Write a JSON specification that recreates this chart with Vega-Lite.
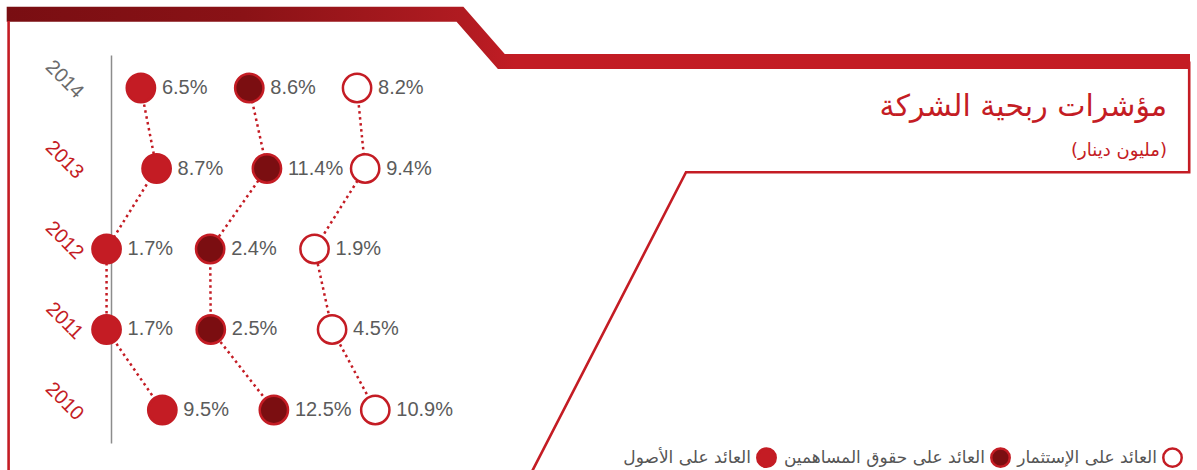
{
  "$schema": "https://vega.github.io/schema/vega-lite/v6.json",
  "width": 1197,
  "height": 470,
  "autosize": {"type": "none"},
  "padding": 0,
  "background": "white",
  "config": {"view": {"stroke": null}, "font": "Liberation Sans"},
  "title": {
    "text": "مؤشرات ربحية الشركة",
    "subtitle": "(مليون دينار)",
    "anchor": "end",
    "frame": "group",
    "orient": "top",
    "offset": -176,
    "dx": -30,
    "font": "DejaVu Sans",
    "fontSize": 30,
    "fontWeight": "normal",
    "color": "#c41c24",
    "subtitleFont": "DejaVu Sans",
    "subtitleFontSize": 18,
    "subtitleColor": "#c41c24",
    "subtitlePadding": 20
  },
  "datasets": {
    "ratios": [
      {"year": 2014, "series": "العائد على الأصول", "value": 0.065},
      {"year": 2013, "series": "العائد على الأصول", "value": 0.087},
      {"year": 2012, "series": "العائد على الأصول", "value": 0.017},
      {"year": 2011, "series": "العائد على الأصول", "value": 0.017},
      {"year": 2010, "series": "العائد على الأصول", "value": 0.095},
      {"year": 2014, "series": "العائد على حقوق المساهمين", "value": 0.086},
      {"year": 2013, "series": "العائد على حقوق المساهمين", "value": 0.114},
      {"year": 2012, "series": "العائد على حقوق المساهمين", "value": 0.024},
      {"year": 2011, "series": "العائد على حقوق المساهمين", "value": 0.025},
      {"year": 2010, "series": "العائد على حقوق المساهمين", "value": 0.125},
      {"year": 2014, "series": "العائد على الإستثمار", "value": 0.082},
      {"year": 2013, "series": "العائد على الإستثمار", "value": 0.094},
      {"year": 2012, "series": "العائد على الإستثمار", "value": 0.019},
      {"year": 2011, "series": "العائد على الإستثمار", "value": 0.045},
      {"year": 2010, "series": "العائد على الإستثمار", "value": 0.109}
    ],
    "frame": [
      {"path": "bar", "i": 0, "x": 6.7, "y": 14.2},
      {"path": "bar", "i": 1, "x": 460, "y": 14.2},
      {"path": "bar", "i": 2, "x": 501.3, "y": 61.5},
      {"path": "bar", "i": 3, "x": 1190, "y": 61.5},
      {"path": "border", "i": 0, "x": 1189.2, "y": 61.5},
      {"path": "border", "i": 1, "x": 1189.2, "y": 172.2},
      {"path": "border", "i": 2, "x": 686, "y": 172.2},
      {"path": "border", "i": 3, "x": 527.6, "y": 480},
      {"path": "left", "i": 0, "x": 8.6, "y": 21},
      {"path": "left", "i": 1, "x": 8.6, "y": 480}
    ]
  },
  "layer": [
    {
      "data": {"name": "frame"},
      "encoding": {
        "x": {"field": "x", "type": "quantitative", "scale": {"domain": [0, 1197], "range": [0, 1197], "zero": false, "nice": false}, "axis": null},
        "y": {"field": "y", "type": "quantitative", "scale": {"domain": [0, 470], "range": [0, 470], "zero": false, "nice": false}, "axis": null},
        "order": {"field": "i", "type": "quantitative"}
      },
      "layer": [
        {
          "transform": [{"filter": "datum.path === 'bar'"}],
          "mark": {
            "type": "line",
            "strokeWidth": 15,
            "strokeJoin": "miter",
            "strokeCap": "butt",
            "stroke": {
              "gradient": "linear",
              "x1": 0, "y1": 0, "x2": 1, "y2": 0,
              "stops": [
                {"offset": 0, "color": "#790e12"},
                {"offset": 0.2, "color": "#8a1216"},
                {"offset": 0.385, "color": "#b01b21"},
                {"offset": 0.43, "color": "#c21c24"},
                {"offset": 1, "color": "#c41c24"}
              ]
            }
          }
        },
        {
          "transform": [{"filter": "datum.path !== 'bar'"}],
          "mark": {"type": "line", "stroke": "#c41c24", "strokeWidth": 2.6, "strokeJoin": "miter"},
          "encoding": {"detail": {"field": "path", "type": "nominal"}}
        }
      ]
    },
    {
      "data": {"name": "ratios"},
      "encoding": {
        "y": {
          "field": "year",
          "type": "ordinal",
          "sort": "descending",
          "scale": {"type": "point", "range": [55, 443], "padding": 0.41},
          "axis": {
            "orient": "left",
            "offset": -111,
            "title": null,
            "ticks": false,
            "tickSize": 0,
            "grid": false,
            "domainColor": "#8c8c8c",
            "domainWidth": 1.5,
            "labelAngle": 45,
            "labelAlign": "center",
            "labelBaseline": "middle",
            "labelPadding": 47,
            "labelOffset": -9,
            "labelFont": "Liberation Sans",
            "labelFontSize": 20,
            "labelColor": {"condition": {"test": "datum.value == 2014", "value": "#6b6b6b"}, "value": "#c41c24"}
          }
        }
      },
      "layer": [
        {
          "transform": [{"filter": "datum.series === 'العائد على الأصول'"}],
          "encoding": {
            "x": {"field": "value", "type": "quantitative", "scale": {"domain": [0, 0.1], "range": [94.4, 165.9], "zero": false, "nice": false}, "axis": null}
          },
          "layer": [
            {"mark": {"type": "line", "stroke": "#c41c24", "strokeWidth": 2.5, "strokeDash": [2.5, 3.5]}, "encoding": {"order": {"field": "year", "type": "quantitative"}}},
            {"mark": {"type": "circle", "size": 800, "stroke": "#c41c24", "strokeWidth": 2.5, "opacity": 1},
             "encoding": {"fill": {"field": "series", "type": "nominal"}}},
            {"mark": {"type": "text", "align": "left", "baseline": "middle", "dx": 21, "font": "Liberation Sans", "fontSize": 20, "color": "#5b5b5b"},
             "encoding": {"text": {"field": "value", "type": "quantitative", "format": ".1%"}}}
          ]
        },
        {
          "transform": [{"filter": "datum.series === 'العائد على حقوق المساهمين'"}],
          "encoding": {
            "x": {"field": "value", "type": "quantitative", "scale": {"domain": [0, 0.1], "range": [195, 258.1], "zero": false, "nice": false}, "axis": null}
          },
          "layer": [
            {"mark": {"type": "line", "stroke": "#c41c24", "strokeWidth": 2.5, "strokeDash": [2.5, 3.5]}, "encoding": {"order": {"field": "year", "type": "quantitative"}}},
            {"mark": {"type": "circle", "size": 800, "stroke": "#c41c24", "strokeWidth": 2.5, "opacity": 1},
             "encoding": {"fill": {"field": "series", "type": "nominal"}}},
            {"mark": {"type": "text", "align": "left", "baseline": "middle", "dx": 21, "font": "Liberation Sans", "fontSize": 20, "color": "#5b5b5b"},
             "encoding": {"text": {"field": "value", "type": "quantitative", "format": ".1%"}}}
          ]
        },
        {
          "transform": [{"filter": "datum.series === 'العائد على الإستثمار'"}],
          "encoding": {
            "x": {"field": "value", "type": "quantitative", "scale": {"domain": [0, 0.1], "range": [301.7, 369.2], "zero": false, "nice": false}, "axis": null}
          },
          "layer": [
            {"mark": {"type": "line", "stroke": "#c41c24", "strokeWidth": 2.5, "strokeDash": [2.5, 3.5]}, "encoding": {"order": {"field": "year", "type": "quantitative"}}},
            {"mark": {"type": "circle", "size": 800, "stroke": "#c41c24", "strokeWidth": 2.5, "opacity": 1},
             "encoding": {"fill": {
               "field": "series",
               "type": "nominal",
               "scale": {"domain": ["العائد على الأصول", "العائد على حقوق المساهمين", "العائد على الإستثمار"], "range": ["#c41c24", "#7b0e11", "#ffffff"]},
               "legend": {
                 "orient": "none",
                 "legendX": 756,
                 "legendY": 447,
                 "direction": "horizontal",
                 "columns": 3,
                 "padding": 0,
                 "title": null,
                 "symbolType": "circle",
                 "symbolSize": 340,
                 "symbolStrokeColor": "#c41c24",
                 "symbolStrokeWidth": 2.5,
                 "symbolOpacity": 1,
                 "labelFont": "DejaVu Sans",
                 "labelFontSize": 17,
                 "labelColor": "#555555",
                 "labelAlign": "right",
                 "labelOffset": -26,
                 "labelLimit": 400,
                 "columnPadding": 2
               }
             }}},
            {"mark": {"type": "text", "align": "left", "baseline": "middle", "dx": 21, "font": "Liberation Sans", "fontSize": 20, "color": "#5b5b5b"},
             "encoding": {"text": {"field": "value", "type": "quantitative", "format": ".1%"}}}
          ]
        }
      ],
      "resolve": {"scale": {"x": "independent"}}
    }
  ],
  "resolve": {"scale": {"x": "independent", "y": "independent"}}
}
